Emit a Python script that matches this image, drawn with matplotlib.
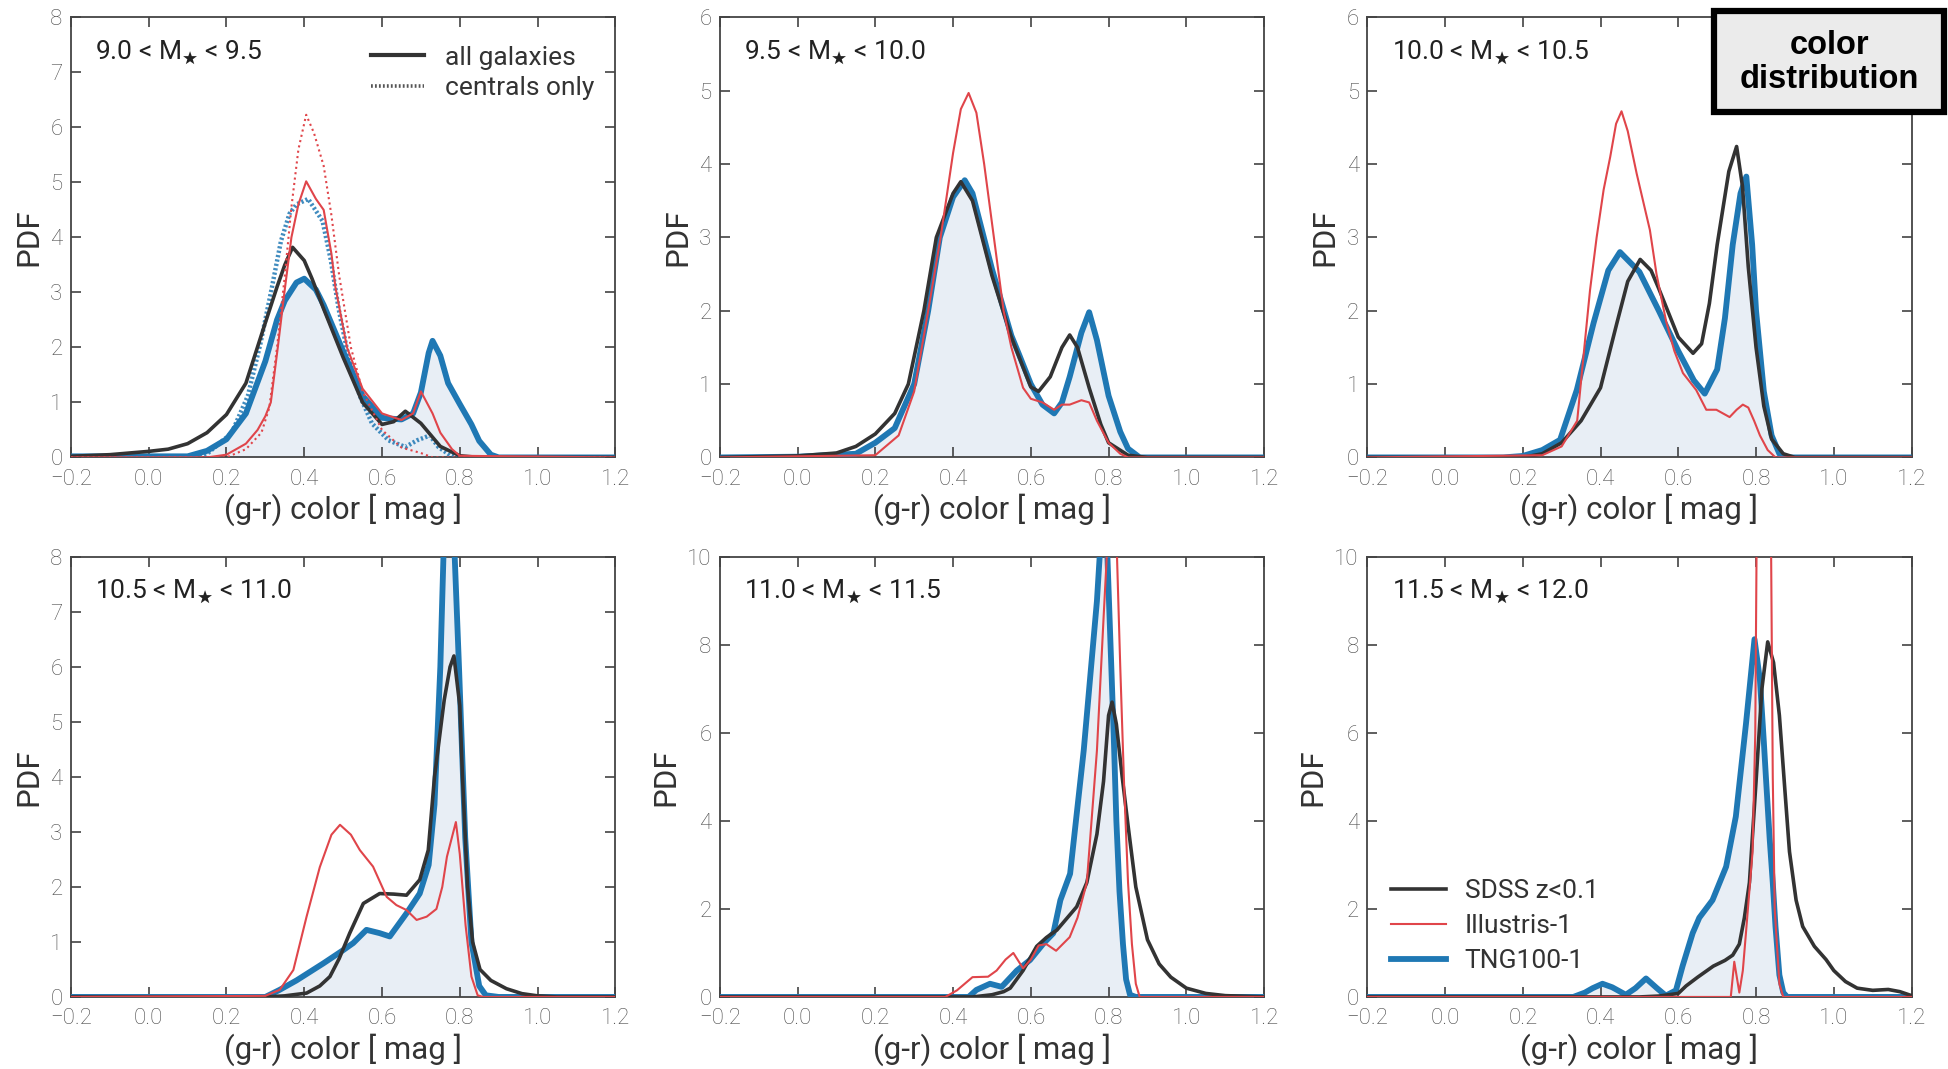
import matplotlib
matplotlib.use("Agg")
import matplotlib.pyplot as plt
from matplotlib.lines import Line2D
from matplotlib.patches import Rectangle

plt.rcParams["font.family"] = ["Roboto", "DejaVu Sans"]
plt.rcParams["font.weight"] = "light"
plt.rcParams["mathtext.fontset"] = "dejavusans"

# ── Colours ─────────────────────────────────────────────────────────────────
C_SDSS = "#333333"
C_ILL = "#e0454a"
C_TNG = "#1f78b4"
C_FILL = "#e8eef5"

# ── Panel 1: 9.0 < M < 9.5 ──────────────────────────────────────────────────
sdss1_x = [-0.2, -0.1, 0.0, 0.05, 0.1, 0.15, 0.2, 0.25, 0.3, 0.33, 0.35, 0.37, 0.4, 0.42,
           0.45, 0.5, 0.55, 0.6, 0.63, 0.66, 0.7, 0.75, 0.8, 0.85, 1.2]
sdss1_y = [0.02, 0.05, 0.11, 0.15, 0.25, 0.45, 0.78, 1.35, 2.45, 3.1, 3.5, 3.82, 3.58, 3.25,
           2.7, 1.82, 1.0, 0.6, 0.65, 0.84, 0.62, 0.2, 0.03, 0.0, 0.0]
tng1_x = [-0.2, 0.1, 0.15, 0.2, 0.25, 0.3, 0.33, 0.35, 0.38, 0.4, 0.43, 0.45, 0.5, 0.55,
          0.6, 0.65, 0.68, 0.7, 0.72, 0.73, 0.75, 0.77, 0.8, 0.83, 0.85, 0.88, 0.9, 1.2]
tng1_y = [0.02, 0.02, 0.12, 0.33, 0.8, 1.75, 2.5, 2.85, 3.18, 3.25, 3.05, 2.77, 1.93, 1.12,
          0.72, 0.69, 0.8, 1.18, 1.9, 2.12, 1.85, 1.35, 0.97, 0.6, 0.3, 0.05, 0.0, 0.0]
ill1_x = [-0.2, 0.15, 0.2, 0.25, 0.28, 0.3, 0.314, 0.332, 0.349, 0.367, 0.385, 0.405, 0.43,
          0.45, 0.47, 0.48, 0.51, 0.55, 0.6, 0.65, 0.68, 0.7, 0.73, 0.75, 0.78, 0.8, 1.2]
ill1_y = [0.0, 0.0, 0.05, 0.25, 0.5, 0.75, 1.0, 2.0, 3.0, 4.0, 4.6, 5.02, 4.7,
          4.5, 3.7, 3.1, 2.0, 1.25, 0.8, 0.68, 0.8, 1.2, 0.8, 0.45, 0.15, 0.03, 0.0]
cen_ill1_x = [-0.2, 0.2, 0.25, 0.29, 0.31, 0.33, 0.35, 0.367, 0.385, 0.405, 0.425, 0.45,
              0.47, 0.49, 0.52, 0.55, 0.6, 0.65, 0.7, 0.73, 1.2]
cen_ill1_y = [0.0, 0.0, 0.15, 0.45, 0.9, 2.0, 3.3, 4.55, 5.6, 6.23, 5.9, 5.3,
              4.4, 3.3, 2.0, 1.2, 0.5, 0.18, 0.08, 0.0, 0.0]
cen_tng1_x = [-0.2, 0.1, 0.149, 0.213, 0.255, 0.287, 0.314, 0.34, 0.362, 0.38, 0.41, 0.447,
              0.468, 0.489, 0.516, 0.543, 0.574, 0.617, 0.66, 0.69, 0.723, 0.745, 0.777, 0.8, 1.2]
cen_tng1_y = [0.0, 0.0, 0.06, 0.44, 1.12, 2.06, 2.99, 3.93, 4.43, 4.6, 4.7, 4.3,
              3.6, 2.68, 1.75, 1.12, 0.62, 0.31, 0.19, 0.31, 0.4, 0.19, 0.03, 0.0, 0.0]

# ── Panel 2: 9.5 < M < 10.0 ─────────────────────────────────────────────────
sdss2_x = [-0.2, 0.0, 0.1, 0.15, 0.2, 0.25, 0.285, 0.325, 0.357, 0.4, 0.42, 0.45, 0.5, 0.55,
           0.6, 0.62, 0.65, 0.68, 0.7, 0.72, 0.75, 0.78, 0.8, 0.85, 0.9, 1.2]
sdss2_y = [0.0, 0.02, 0.06, 0.15, 0.32, 0.6, 1.0, 2.0, 3.0, 3.6, 3.76, 3.5, 2.48, 1.64,
           0.96, 0.9, 1.1, 1.5, 1.67, 1.5, 0.95, 0.45, 0.2, 0.03, 0.0, 0.0]
tng2_x = [-0.2, 0.0, 0.15, 0.2, 0.25, 0.3, 0.336, 0.366, 0.4, 0.43, 0.45, 0.5, 0.55, 0.57,
          0.6, 0.63, 0.66, 0.68, 0.7, 0.73, 0.75, 0.77, 0.8, 0.83, 0.85, 0.88, 1.2]
tng2_y = [0.0, 0.01, 0.05, 0.2, 0.4, 1.0, 2.0, 3.0, 3.55, 3.78, 3.6, 2.57, 1.66, 1.4,
          1.0, 0.72, 0.6, 0.75, 1.1, 1.7, 1.98, 1.6, 0.84, 0.35, 0.12, 0.0, 0.0]
ill2_x = [-0.2, 0.2, 0.26, 0.3, 0.336, 0.368, 0.4, 0.42, 0.44, 0.46, 0.48, 0.5, 0.53, 0.55,
          0.58, 0.6, 0.63, 0.66, 0.68, 0.7, 0.73, 0.75, 0.77, 0.8, 0.83, 0.85, 1.2]
ill2_y = [0.0, 0.03, 0.3, 0.9, 2.0, 3.0, 4.15, 4.75, 4.97, 4.7, 4.0, 3.2, 2.0, 1.5,
          0.95, 0.8, 0.75, 0.65, 0.72, 0.72, 0.78, 0.75, 0.5, 0.2, 0.05, 0.0, 0.0]

# ── Panel 3: 10.0 < M < 10.5 ────────────────────────────────────────────────
sdss3_x = [-0.2, 0.2, 0.25, 0.3, 0.35, 0.4, 0.442, 0.47, 0.502, 0.53, 0.55, 0.6, 0.638,
           0.66, 0.68, 0.7, 0.73, 0.75, 0.765, 0.78, 0.8, 0.82, 0.84, 0.87, 0.9, 1.2]
sdss3_y = [0.0, 0.0, 0.05, 0.2, 0.5, 0.95, 1.83, 2.4, 2.7, 2.55, 2.3, 1.64, 1.42,
           1.55, 2.1, 2.9, 3.9, 4.24, 3.7, 2.6, 1.5, 0.7, 0.25, 0.05, 0.0, 0.0]
tng3_x = [-0.2, 0.15, 0.2, 0.25, 0.296, 0.339, 0.382, 0.42, 0.45, 0.5, 0.55, 0.6, 0.64,
          0.668, 0.7, 0.72, 0.74, 0.76, 0.775, 0.79, 0.8, 0.82, 0.84, 0.86, 0.88, 1.2]
tng3_y = [0.0, 0.0, 0.02, 0.1, 0.24, 0.92, 1.83, 2.55, 2.8, 2.53, 2.0, 1.45, 1.05,
          0.87, 1.2, 1.9, 2.9, 3.6, 3.83, 2.9, 2.0, 0.9, 0.3, 0.05, 0.0, 0.0]
ill3_x = [-0.2, 0.25, 0.3, 0.34, 0.356, 0.373, 0.39, 0.408, 0.425, 0.44, 0.454, 0.47, 0.493,
          0.527, 0.544, 0.569, 0.59, 0.612, 0.646, 0.672, 0.698, 0.715, 0.732, 0.75, 0.766,
          0.78, 0.795, 0.81, 0.83, 0.85, 1.2]
ill3_y = [0.0, 0.03, 0.15, 0.5, 1.37, 2.28, 3.0, 3.65, 4.1, 4.55, 4.72, 4.45, 3.87,
          3.1, 2.5, 1.85, 1.45, 1.15, 0.92, 0.65, 0.65, 0.6, 0.55, 0.65, 0.72,
          0.68, 0.5, 0.3, 0.1, 0.0, 0.0]

# ── Panel 4: 10.5 < M < 11.0 ────────────────────────────────────────────────
sdss4_x = [-0.2, 0.3, 0.35, 0.406, 0.44, 0.466, 0.49, 0.517, 0.552, 0.594, 0.63, 0.663,
           0.697, 0.719, 0.735, 0.76, 0.775, 0.785, 0.8, 0.807, 0.82, 0.833, 0.852, 0.88,
           0.92, 0.96, 1.0, 1.05, 1.2]
sdss4_y = [0.0, 0.0, 0.02, 0.07, 0.2, 0.37, 0.7, 1.16, 1.7, 1.88, 1.87, 1.85,
           2.13, 2.67, 4.0, 5.4, 6.0, 6.2, 5.3, 4.0, 2.0, 1.0, 0.5, 0.3,
           0.15, 0.06, 0.02, 0.0, 0.0]
tng4_x = [-0.2, 0.3, 0.337, 0.38, 0.449, 0.5, 0.526, 0.56, 0.594, 0.62, 0.663, 0.697, 0.72,
          0.735, 0.75, 0.758, 0.772, 0.787, 0.798, 0.814, 0.83, 0.85, 0.867, 0.9, 1.2]
tng4_y = [0.0, 0.0, 0.13, 0.3, 0.61, 0.85, 0.98, 1.22, 1.16, 1.1, 1.52, 1.88, 2.4,
          3.5, 6.0, 8.0, 11.0, 8.0, 6.0, 2.9, 1.0, 0.2, 0.03, 0.0, 0.0]
ill4_x = [-0.2, 0.3, 0.337, 0.372, 0.406, 0.44, 0.47, 0.492, 0.52, 0.543, 0.577, 0.612,
          0.637, 0.663, 0.689, 0.715, 0.74, 0.755, 0.767, 0.79, 0.8, 0.815, 0.83, 0.846,
          0.86, 1.2]
ill4_y = [0.0, 0.02, 0.13, 0.49, 1.46, 2.36, 2.95, 3.13, 2.95, 2.67, 2.37, 1.82,
          1.67, 1.58, 1.4, 1.46, 1.6, 2.0, 2.55, 3.18, 2.6, 1.3, 0.37, 0.03,
          0.0, 0.0]

# ── Panel 5: 11.0 < M < 11.5 ────────────────────────────────────────────────
sdss5_x = [-0.2, 0.45, 0.5, 0.53, 0.547, 0.58, 0.615, 0.64, 0.667, 0.718, 0.744, 0.77,
           0.787, 0.8, 0.809, 0.82, 0.835, 0.85, 0.87, 0.9, 0.93, 0.96, 1.0, 1.05, 1.1, 1.2]
sdss5_y = [0.0, 0.0, 0.05, 0.12, 0.2, 0.6, 1.15, 1.35, 1.52, 2.05, 2.6, 3.7,
           4.9, 6.4, 6.7, 6.2, 5.0, 3.9, 2.5, 1.3, 0.75, 0.45, 0.2, 0.08, 0.03, 0.0]
tng5_x = [-0.2, 0.44, 0.46, 0.495, 0.525, 0.564, 0.598, 0.633, 0.658, 0.676, 0.701, 0.736,
          0.77, 0.777, 0.787, 0.797, 0.805, 0.813, 0.82, 0.828, 0.837, 0.845, 0.855, 0.87, 1.2]
tng5_y = [0.0, 0.0, 0.16, 0.3, 0.23, 0.6, 0.84, 1.22, 1.45, 2.2, 2.8, 5.6,
          9.0, 10.0, 10.8, 10.0, 8.0, 6.0, 4.0, 2.4, 1.2, 0.4, 0.05, 0.0, 0.0]
ill5_x = [-0.2, 0.38, 0.41, 0.45, 0.49, 0.512, 0.535, 0.555, 0.58, 0.6, 0.62, 0.64, 0.665,
          0.7, 0.72, 0.744, 0.77, 0.787, 0.8, 0.81, 0.82, 0.83, 0.84, 0.85, 0.86, 0.87,
          0.88, 1.2]
ill5_y = [0.0, 0.0, 0.15, 0.45, 0.46, 0.6, 0.85, 1.0, 0.65, 0.85, 1.17, 1.2, 1.05,
          1.36, 1.8, 2.6, 5.6, 8.6, 10.8, 12.0, 10.5, 7.5, 4.8, 2.6, 1.2, 0.3,
          0.0, 0.0]

# ── Panel 6: 11.5 < M < 12.0 ────────────────────────────────────────────────
sdss6_x = [-0.2, 0.5, 0.55, 0.6, 0.62, 0.65, 0.69, 0.72, 0.74, 0.757, 0.77, 0.783, 0.8,
           0.815, 0.83, 0.845, 0.86, 0.875, 0.886, 0.903, 0.92, 0.95, 0.98, 1.0, 1.03,
           1.06, 1.1, 1.14, 1.17, 1.2]
sdss6_y = [0.0, 0.0, 0.02, 0.08, 0.25, 0.45, 0.7, 0.83, 0.95, 1.2, 1.8, 2.6, 4.9,
           7.0, 8.07, 7.6, 6.4, 4.6, 3.3, 2.2, 1.6, 1.15, 0.85, 0.6, 0.35,
           0.2, 0.15, 0.17, 0.12, 0.03]
tng6_x = [-0.2, 0.33, 0.36, 0.38, 0.405, 0.43, 0.465, 0.49, 0.517, 0.545, 0.568, 0.594,
          0.611, 0.637, 0.654, 0.688, 0.723, 0.748, 0.774, 0.796, 0.81, 0.82, 0.826, 0.835,
          0.843, 0.85, 0.86, 0.87, 0.88, 1.2]
tng6_y = [0.0, 0.0, 0.1, 0.2, 0.3, 0.22, 0.05, 0.2, 0.42, 0.2, 0.03, 0.15,
          0.7, 1.45, 1.8, 2.2, 2.96, 4.1, 6.2, 8.13, 7.2, 5.8, 4.9, 3.6,
          2.6, 1.6, 0.5, 0.1, 0.0, 0.0]
ill6_x = [-0.2, 0.735, 0.744, 0.757, 0.766, 0.774, 0.791, 0.798, 0.802, 0.82, 0.838, 0.843,
          0.848, 0.86, 0.87, 1.2]
ill6_y = [0.0, 0.0, 0.8, 0.1, 0.6, 1.45, 3.3, 6.0, 11.0, 18.0, 11.0, 5.0,
          2.0, 0.3, 0.0, 0.0]

MASS_BINS = [("9.0", "9.5"), ("9.5", "10.0"), ("10.0", "10.5"),
             ("10.5", "11.0"), ("11.0", "11.5"), ("11.5", "12.0")]
YMAX = [8, 6, 6, 8, 10, 10]
YSTEP = [1, 1, 1, 1, 2, 2]
XTICKS = [-0.2, 0.0, 0.2, 0.4, 0.6, 0.8, 1.0, 1.2]

PANELS = [
    (sdss1_x, sdss1_y, ill1_x, ill1_y, tng1_x, tng1_y),
    (sdss2_x, sdss2_y, ill2_x, ill2_y, tng2_x, tng2_y),
    (sdss3_x, sdss3_y, ill3_x, ill3_y, tng3_x, tng3_y),
    (sdss4_x, sdss4_y, ill4_x, ill4_y, tng4_x, tng4_y),
    (sdss5_x, sdss5_y, ill5_x, ill5_y, tng5_x, tng5_y),
    (sdss6_x, sdss6_y, ill6_x, ill6_y, tng6_x, tng6_y),
]

# axes layout in figure fractions
COL_LEFT = [0.0364, 0.3693, 0.7015]
ROW_BOTTOM = [0.5721, 0.0674]
AX_W, AX_H = 0.2793, 0.4116

fig = plt.figure(figsize=(19.49, 10.69), dpi=100)

for i, (sx, sy, ix, iy, tx, ty) in enumerate(PANELS):
    ax = fig.add_axes([COL_LEFT[i % 3], ROW_BOTTOM[i // 3], AX_W, AX_H])

    ax.fill_between(tx, 0, ty, color=C_FILL, lw=0, zorder=1)
    ax.plot(tx, ty, color=C_TNG, lw=4.2, zorder=3, solid_capstyle="round")
    ax.plot(sx, sy, color=C_SDSS, lw=2.6, zorder=4)
    ax.plot(ix, iy, color=C_ILL, lw=1.5, zorder=5)

    if i == 0:
        ax.plot(cen_ill1_x, cen_ill1_y, color=C_ILL, lw=1.5,
                linestyle=(0, (1, 1.6)), zorder=5)
        ax.plot(cen_tng1_x, cen_tng1_y, color=C_TNG, lw=3.2,
                linestyle=(0, (0.5, 0.5)), alpha=0.85, zorder=3)

    ax.set_xlim(-0.2, 1.2)
    ax.set_ylim(0, YMAX[i])
    ax.set_xticks(XTICKS)
    ax.set_xticklabels([f"{t:.1f}".replace("-", "\u2212") for t in XTICKS])
    ax.set_yticks(list(range(0, YMAX[i] + 1, YSTEP[i])))

    ax.tick_params(direction="in", top=True, right=True, length=7, width=1.1,
                   color="#333333", labelcolor="#4a4a4a", labelsize=16)
    ax.tick_params(axis="x", pad=8)
    ax.tick_params(axis="y", pad=6)
    for sp in ax.spines.values():
        sp.set_color("#444444")
        sp.set_linewidth(1.3)

    ax.set_xlabel("(g-r) color [ mag ]", fontsize=22.5, color="#333333", labelpad=3)
    ax.set_ylabel("PDF", fontsize=22.5, color="#333333", labelpad=5)

    lo, hi = MASS_BINS[i]
    ax.text(0.045, 0.92, f"{lo} < M$_\\bigstar$ < {hi}", transform=ax.transAxes,
            fontsize=19, fontweight="normal", color="#222222", va="center", ha="left")

    if i == 0:
        handles = [
            Line2D([], [], color=C_SDSS, lw=3.0, label="all galaxies"),
            Line2D([], [], color="#555555", lw=2.6, linestyle=(0, (0.5, 0.6)),
                   label="centrals only"),
        ]
        leg = ax.legend(handles=handles, loc="upper right", bbox_to_anchor=(1.005, 0.99),
                        frameon=False, fontsize=19, handlelength=2.0, handletextpad=0.8,
                        labelspacing=0.25, labelcolor="#333333")
        for txt in leg.get_texts():
            txt.set_fontweight("normal")
    if i == 5:
        handles = [
            Line2D([], [], color=C_SDSS, lw=2.6, label="SDSS z<0.1"),
            Line2D([], [], color=C_ILL, lw=1.5, label="Illustris-1"),
            Line2D([], [], color=C_TNG, lw=4.2, label="TNG100-1"),
        ]
        leg = ax.legend(handles=handles, loc="lower left", bbox_to_anchor=(0.0, 0.0),
                        frameon=False, fontsize=19, handlelength=2.1, handletextpad=0.7,
                        labelspacing=0.42, labelcolor="#333333")
        for txt in leg.get_texts():
            txt.set_fontweight("normal")

# label box in the top-right corner
box = Rectangle((0.8795, 0.895), 0.118, 0.095, transform=fig.transFigure,
                facecolor="#ebebeb", edgecolor="black", lw=4.5, zorder=10)
fig.add_artist(box)
fig.text(0.9385, 0.9415, "color\ndistribution", ha="center", va="center",
         fontsize=23.5, fontweight="bold", family="Liberation Sans",
         linespacing=1.1, zorder=11)

fig.savefig("out.png", dpi=100)
